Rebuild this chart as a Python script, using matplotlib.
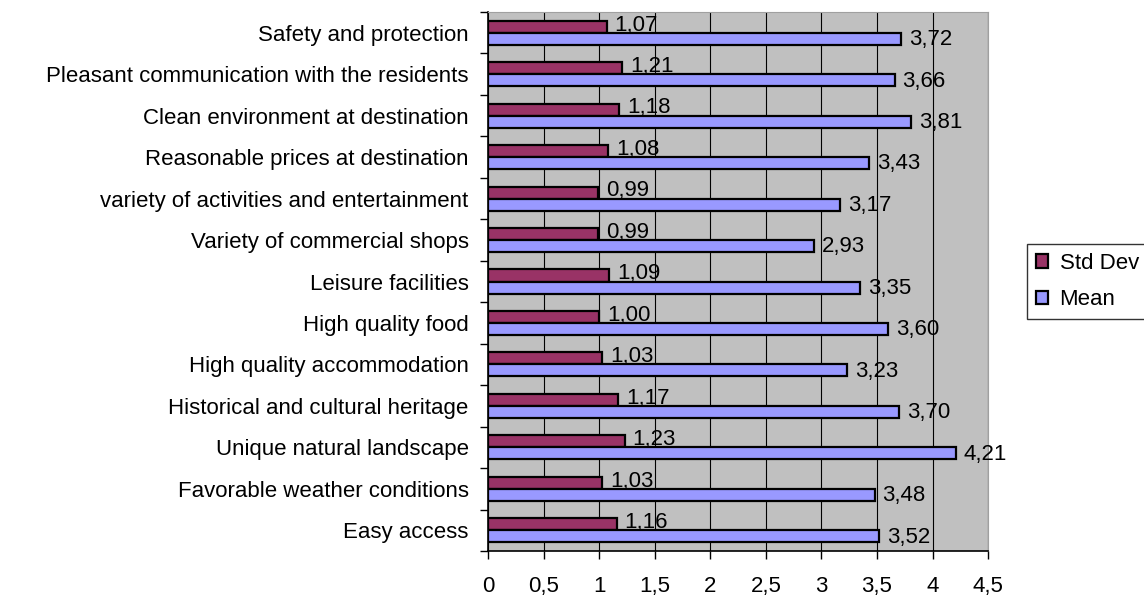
import matplotlib.pyplot as plt
import numpy as np
from matplotlib.ticker import FuncFormatter, FixedLocator

plt.rcParams['font.family'] = ['Liberation Sans', 'DejaVu Sans']

# bottom to top
categories = ['Easy access', 'Favorable weather conditions', 'Unique natural landscape',
              'Historical and cultural heritage', 'High quality accommodation',
              'High quality food', 'Leisure facilities', 'Variety of commercial shops',
              'variety of activities and entertainment', 'Reasonable prices at destination',
              'Clean environment at destination', 'Pleasant communication with the residents',
              'Safety and protection']
std_dev = [1.16, 1.03, 1.23, 1.17, 1.03, 1.00, 1.09, 0.99, 0.99, 1.08, 1.18, 1.21, 1.07]
mean = [3.52, 3.48, 4.21, 3.70, 3.23, 3.60, 3.35, 2.93, 3.17, 3.43, 3.81, 3.66, 3.72]
xticks = [0, 0.5, 1, 1.5, 2, 2.5, 3, 3.5, 4, 4.5]

FS = 16


def comma(v, fmt='%g'):
    return (fmt % v).replace('.', ',')


fig = plt.figure(figsize=(11.44, 5.99), dpi=100)
ax = fig.add_axes([0.4266, 0.0801, 0.4371, 0.8999])
ax.set_facecolor('#C0C0C0')

y = np.arange(len(categories))
h = 0.29
ax.barh(y + h / 2, std_dev, height=h, color='#993366', edgecolor='black',
        linewidth=1.6, label='Std Dev', zorder=3)
ax.barh(y - h / 2, mean, height=h, color='#9999FF', edgecolor='black',
        linewidth=1.6, label='Mean', zorder=3)

for yi, s, m in zip(y, std_dev, mean):
    ax.text(s + 0.07, yi + h / 2 + 0.04, comma(s, '%.2f'), ha='left', va='center',
            fontsize=FS, color='black', zorder=4)
    ax.text(m + 0.07, yi - h / 2 - 0.02, comma(m, '%.2f'), ha='left',
            va='center', fontsize=FS, color='black', zorder=4)

ax.set_xlim(0, 4.5)
ax.set_ylim(-0.5, len(categories) - 0.5)
ax.set_xticks(xticks)
ax.xaxis.set_major_formatter(FuncFormatter(lambda v, p: comma(v)))
ax.grid(axis='x', color='black', linewidth=0.8, zorder=1)

ax.set_yticks(y)
ax.set_yticklabels(categories)
ax.yaxis.set_minor_locator(FixedLocator(np.arange(-0.5, len(categories), 1)))
ax.tick_params(axis='y', which='major', length=0, pad=14, labelsize=FS)
ax.tick_params(axis='y', which='minor', length=6, width=1, direction='out')
ax.tick_params(axis='x', length=6, width=1, direction='out', pad=12, labelsize=FS)

for side in ['top', 'right']:
    ax.spines[side].set_color('#A0A0A0')
for side in ['left', 'bottom']:
    ax.spines[side].set_color('black')
    ax.spines[side].set_linewidth(1.2)

fig.legend(loc='upper left', bbox_to_anchor=(0.898, 0.593), frameon=True,
           fancybox=False, edgecolor='black', fontsize=FS, handlelength=0.55,
           handleheight=0.55, handletextpad=0.5, labelspacing=0.7, borderpad=0.4,
           borderaxespad=0)

fig.savefig('out.png', dpi=100)
